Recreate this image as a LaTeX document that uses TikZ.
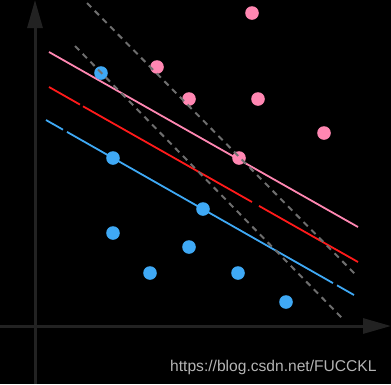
\documentclass[tikz,border=0pt]{standalone}
\usepackage{fontspec}
\setmainfont{Liberation Sans}
\usetikzlibrary{arrows.meta}
\definecolor{axisgray}{HTML}{222222}
\definecolor{dotpink}{HTML}{FF87B2}
\definecolor{dotblue}{HTML}{3FA9F5}
\definecolor{linered}{HTML}{FF1A1A}
\definecolor{dashgray}{HTML}{6E6E6E}
\definecolor{marktext}{HTML}{B4B4B4}
\tikzset{
  axisline/.style={draw=axisgray, line width=3pt, -{Triangle[length=28pt,width=15pt]}},
  pinkdot/.style={circle, fill=dotpink, inner sep=0pt, minimum size=13.6pt},
  bluedot/.style={circle, fill=dotblue, inner sep=0pt, minimum size=13.6pt},
  sepline/.style={line width=1.8pt},
  margin/.style={draw=dashgray, line width=2pt, dash pattern=on 6pt off 5pt},
}
\begin{document}
\begin{tikzpicture}[x=1pt,y=-1pt]
\fill[black] (0,0) rectangle (391,384);
\useasboundingbox (0,0) rectangle (391,384);
% axes
\coordinate (yb) at (35,384);
\coordinate (yt) at (35,0);
\coordinate (xl) at (0,326);
\coordinate (xr) at (391,326);
\draw[axisline] (yb) -- (yt);
\draw[axisline] (xl) -- (xr);
% separating lines
\coordinate (p1) at (49,52); \coordinate (p2) at (358,227);
\draw[sepline, draw=dotpink] (p1) -- (p2);
\coordinate (r1) at (49,87); \coordinate (r2) at (80,104.6);
\coordinate (r3) at (83,106.3); \coordinate (r4) at (252,202.0);
\coordinate (r5) at (259,205.9); \coordinate (r6) at (358,262);
\draw[sepline, draw=linered] (r1) -- (r2) (r3) -- (r4) (r5) -- (r6);
\coordinate (b1) at (46,120); \coordinate (b2) at (63,129.7);
\coordinate (b3) at (67,131.9); \coordinate (b4) at (333,283.1);
\coordinate (b5) at (337,285.3); \coordinate (b6) at (354,295);
\draw[sepline, draw=dotblue] (b1) -- (b2) (b3) -- (b4) (b5) -- (b6);
% dots
\node[pinkdot] (a1) at (252,13) {};
\node[pinkdot] (a2) at (157,67) {};
\node[pinkdot] (a3) at (189,99) {};
\node[pinkdot] (a4) at (258,99) {};
\node[pinkdot] (a5) at (324,133) {};
\node[pinkdot] (a6) at (239,158) {};
\node[bluedot] (c1) at (101,73) {};
\node[bluedot] (c2) at (113,158) {};
\node[bluedot] (c3) at (203,209) {};
\node[bluedot] (c4) at (113,233) {};
\node[bluedot] (c5) at (189,247) {};
\node[bluedot] (c6) at (150,273) {};
\node[bluedot] (c7) at (238,273) {};
\node[bluedot] (c8) at (286,302) {};
% dashed margins
\coordinate (d1) at (87,3); \coordinate (d2) at (355,274);
\coordinate (e1) at (75,46); \coordinate (e2) at (342,318);
\draw[margin] (d1) -- (d2);
\draw[margin] (e1) -- (e2);
% watermark
\node[anchor=base west, inner sep=0pt, text=marktext, font=\fontsize{15.6pt}{18pt}\selectfont] (wm) at (170,371) {https://blog.csdn.net/FUCCKL};
\end{tikzpicture}
\end{document}
